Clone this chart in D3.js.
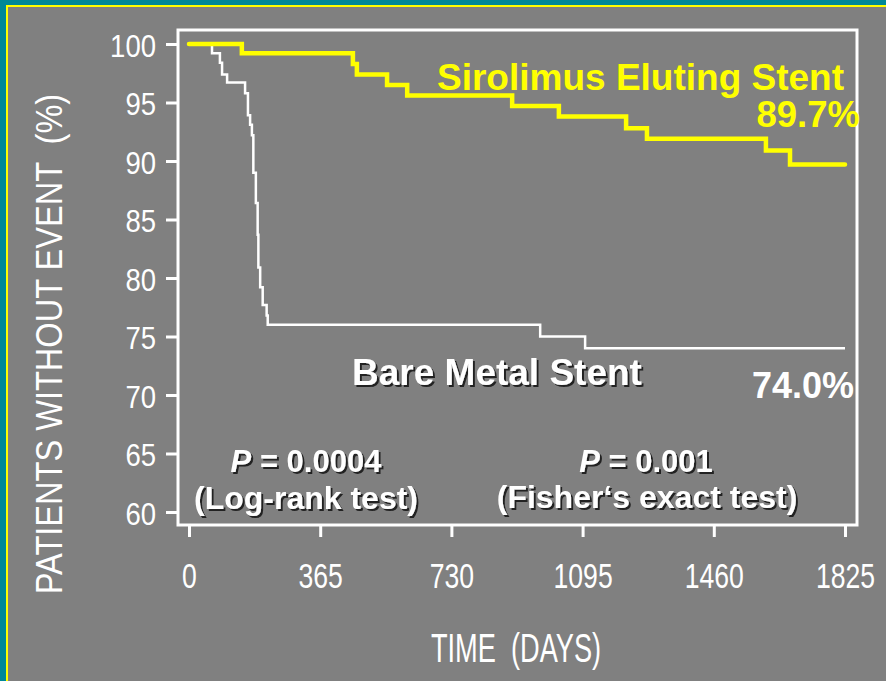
<!DOCTYPE html>
<html>
<head>
<meta charset="utf-8">
<script src="https://cdn.jsdelivr.net/npm/d3@7"></script>
<style>
html,body{margin:0;padding:0;background:#808080;}
svg{display:block;}
text{white-space:pre;}
</style>
</head>
<body>
<svg id="chart" width="886" height="681"></svg>
<script>
// ---- data ----
const xTicks = [0, 365, 730, 1095, 1460, 1825];
const yTicks = [60, 65, 70, 75, 80, 85, 90, 95, 100];

const sesDays = [0, 147, 456, 467, 551, 607, 899, 1029, 1216, 1274, 1605, 1672, 1825];
const sesSurv = [100, 99.2, 98.3, 97.4, 96.5, 95.6, 94.7, 93.8, 92.8, 91.9, 90.9, 89.7, 89.7];

const bmsDays = [0, 64, 86, 92, 106, 156, 164, 170, 175, 179, 186, 191, 193, 198, 205, 216, 219, 977, 1102, 1825];
const bmsSurv = [100, 99.2, 98.4, 97.4, 96.7, 95.8, 93.9, 93.1, 92.2, 89.0, 86.4, 83.7, 80.9, 79.2, 77.7, 76.8, 76.0, 75.0, 74.0, 74.0];

const xTitle = "TIME  (DAYS)";
const yTitle = "PATIENTS WITHOUT EVENT  (%)";

// ---- drawing ----
const svg = d3.select("#chart");
const W = 886, H = 681;

const defs = svg.append("defs");
const f = defs.append("filter").attr("id","shadow").attr("x","-10%").attr("y","-20%").attr("width","130%").attr("height","150%");
f.append("feDropShadow").attr("dx",2).attr("dy",2).attr("stdDeviation",0.6)
  .attr("flood-color","#1e1e1e").attr("flood-opacity",0.95);

// slide background with borders (top & left)
svg.append("rect").attr("x",0).attr("y",0).attr("width",W).attr("height",H).attr("fill","#008898");
svg.append("rect").attr("x",6).attr("y",5).attr("width",W).attr("height",H).attr("fill","#ffff00");
svg.append("rect").attr("x",8).attr("y",7).attr("width",W).attr("height",H).attr("fill","#808080");

const frame = {left:178, top:30, right:857, bottom:525};
const x = d3.scaleLinear().domain([0,1825]).range([189,845]);
const y = d3.scaleLinear().domain([60,100]).range([512,44]);

const font = "'Liberation Sans', Arial, Helvetica, sans-serif";

// frame
svg.append("rect")
  .attr("x",frame.left).attr("y",frame.top)
  .attr("width",frame.right-frame.left).attr("height",frame.bottom-frame.top)
  .attr("fill","none").attr("stroke","#fff").attr("stroke-width",3);

// y axis
const gy = svg.append("g").attr("transform",`translate(${frame.left},0)`)
  .call(d3.axisLeft(y).tickValues(yTicks).tickSize(12).tickFormat(d3.format("d")));
gy.select(".domain").remove();
gy.selectAll(".tick line").attr("stroke","#fff").attr("stroke-width",3);
gy.selectAll(".tick text")
  .attr("x",0).attr("dy",null)
  .attr("transform","translate(-22,12) scale(0.86,1)")
  .attr("fill","#fff").attr("font-family",font).attr("font-size",32);

// x axis
const gx = svg.append("g").attr("transform",`translate(0,${frame.bottom})`)
  .call(d3.axisBottom(x).tickValues(xTicks).tickSize(12).tickFormat(d3.format("d")));
gx.select(".domain").remove();
gx.selectAll(".tick line").attr("stroke","#fff").attr("stroke-width",3);
gx.selectAll(".tick text")
  .attr("y",0).attr("dy",null)
  .attr("transform","translate(0,63) scale(0.76,1)")
  .attr("fill","#fff").attr("font-family",font).attr("font-size",35);

// axis titles
svg.append("text")
  .attr("transform","translate(516,662) scale(0.68,1)")
  .attr("text-anchor","middle").attr("fill","#fff")
  .attr("font-family",font).attr("font-size",40).text(xTitle);
svg.append("text")
  .attr("transform","translate(62,344) rotate(-90) scale(0.88,1)")
  .attr("text-anchor","middle").attr("fill","#fff")
  .attr("font-family",font).attr("font-size",37).text(yTitle);

// curves
const line = d3.line().x(d=>x(d[0])).y(d=>y(d[1])).curve(d3.curveStepAfter);
const bms = bmsDays.map((d,i)=>[d,bmsSurv[i]]);
const ses = sesDays.map((d,i)=>[d,sesSurv[i]]);
svg.append("path").attr("d",line(bms)).attr("fill","none").attr("stroke","#fff").attr("stroke-width",2.5);
svg.append("path").attr("d",line(ses)).attr("fill","none").attr("stroke","#ffff00").attr("stroke-width",4.5)
  .attr("stroke-linecap","round");

// annotations
function label(txt, xx, yy, size, color, anchor, shadow) {
  const parts = Array.isArray(txt) ? txt : [[txt,false]];
  const t = svg.append("text").attr("x",xx).attr("y",yy)
    .attr("text-anchor",anchor).attr("fill",color)
    .attr("font-family",font).attr("font-weight","bold").attr("font-size",size);
  if (shadow) t.attr("filter","url(#shadow)");
  parts.forEach(p => t.append("tspan").attr("font-style",p[1]?"italic":"normal").text(p[0]));
}
label("Sirolimus Eluting Stent", 437, 90, 37, "#ffff00", "start", false);
label("89.7%", 860, 127, 36.5, "#ffff00", "end", false);
label("Bare Metal Stent", 352, 385, 37, "#fff", "start", true);
label("74.0%", 752, 398, 36, "#fff", "start", false);
label([["P",true],[" = 0.0004",false]], 306, 472, 31, "#fff", "middle", true);
label("(Log-rank test)", 306, 509, 32, "#fff", "middle", true);
label([["P",true],[" = 0.001",false]], 646, 472, 31, "#fff", "middle", true);
label("(Fisher\u2018s exact test)", 647, 508, 32, "#fff", "middle", true);
</script>
</body>
</html>
